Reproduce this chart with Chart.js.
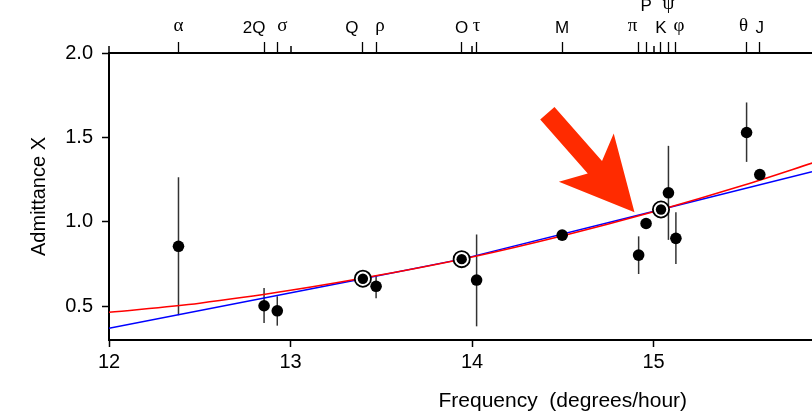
<!DOCTYPE html>
<html>
<head>
<meta charset="utf-8">
<style>
  html, body { margin: 0; padding: 0; background: #fff; overflow: hidden; }
  canvas { display: block; }
</style>
<script src="https://cdn.jsdelivr.net/npm/chart.js@4/dist/chart.umd.min.js"></script>
</head>
<body>
<canvas id="chart" width="812" height="417"></canvas>
<script>
// Diurnal tidal constituents and their estimated admittance
const constituents = ['α', '2Q', 'σ', 'Q', 'ρ', 'O', 'τ', 'M', 'π', 'P', 'K', 'ψ', 'φ', 'θ', 'J'];
const frequencies  = [12.3828, 12.8543, 12.9271, 13.3987, 13.4715, 13.9430, 14.0252, 14.4967,
                      14.9179, 14.9589, 15.0411, 15.0821, 15.1232, 15.5126, 15.5854];
const admittance   = [0.855, 0.503, 0.473, 0.663, 0.618, 0.779, 0.655, 0.921,
                      0.803, 0.990, 1.073, 1.172, 0.902, 1.529, 1.280];
const errLow       = [0.447, 0.401, 0.385, null, 0.547, null, 0.381, null,
                      0.691, null, null, 0.893, 0.750, 1.355, null];
const errHigh      = [1.264, 0.608, 0.559, null, 0.685, null, 0.925, null,
                      0.914, null, null, 1.450, 1.056, 1.707, null];
// Constituents used as references for the admittance curves
const referenceSet = ['Q', 'O', 'K'];

// Smooth admittance curve (red)
const smoothFreq = [12, 12.5, 13, 13.5, 14, 14.5, 15, 15.5, 15.9];
const smoothAdm  = [0.464, 0.518, 0.594, 0.686, 0.792, 0.918, 1.060, 1.218, 1.357];
// Piecewise-linear admittance through the references (blue)
const linearFreq = [12, 13.3987, 13.9430, 15.0411, 15.873];
const linearAdm  = [0.370, 0.663, 0.779, 1.073, 1.297];

const xTicks = [12, 13, 14, 15];
const yTicks = [0.5, 1.0, 1.5, 2.0];

// Placement tweaks for the constituent names along the top axis
const labelNudge = {
  '2Q': { dx: -10 }, 'σ': { dx: 5 }, 'Q': { dx: -11 }, 'ρ': { dx: 4 },
  'π': { dx: -6 }, 'P': { row: 1 }, 'ψ': { row: 1 }, 'φ': { dx: 3 }, 'θ': { dx: -3 }
};
// Highlight arrow, anchored at its tip in data units
const arrowTip = { freq: 14.895, value: 1.056 };

const SANS = 'Liberation Sans, Arial, Helvetica, sans-serif';
const SERIF = 'Liberation Serif, Times New Roman, serif';
const isGreek = s => /[\u0370-\u03ff]/.test(s);
const isRef = i => referenceSet.includes(constituents[i]);

// keep the plot flush with the canvas edges
const noEdgePadding = s => { s.paddingLeft = 0; s.paddingRight = 0; s.paddingTop = 0; s.paddingBottom = 0; };

const errorBars = {
  id: 'errorBars',
  beforeDatasetsDraw(chart) {
    const { ctx, chartArea, scales: { x, y } } = chart;
    ctx.save();
    ctx.beginPath();
    ctx.rect(chartArea.left, chartArea.top, chartArea.right - chartArea.left, chartArea.bottom - chartArea.top);
    ctx.clip();
    ctx.strokeStyle = '#333';
    ctx.lineWidth = 1.5;
    frequencies.forEach((f, i) => {
      if (errLow[i] == null) return;
      const px = x.getPixelForValue(f);
      ctx.beginPath();
      ctx.moveTo(px, y.getPixelForValue(errLow[i]));
      ctx.lineTo(px, y.getPixelForValue(errHigh[i]));
      ctx.stroke();
    });
    ctx.restore();
  }
};

const annotations = {
  id: 'annotations',
  afterDatasetsDraw(chart) {
    const { ctx, scales: { x, y } } = chart;
    const tx = x.getPixelForValue(arrowTip.freq);
    const ty = y.getPixelForValue(arrowTip.value);
    const u = [0.66, 0.751];
    const len = Math.hypot(u[0], u[1]);
    const ux = u[0] / len, uy = u[1] / len;
    const nx = uy, ny = -ux;
    const shape = [[0, 0], [-73, 36.5], [-60, 9.5], [-132, 9.5], [-132, -9.5], [-60, -9.5], [-73, -36.5]];
    ctx.save();
    ctx.fillStyle = '#ff2b00';
    ctx.beginPath();
    shape.forEach(([a, b], k) => {
      const px = tx + a * ux + b * nx;
      const py = ty + a * uy + b * ny;
      if (k === 0) ctx.moveTo(px, py); else ctx.lineTo(px, py);
    });
    ctx.closePath();
    ctx.fill();
    ctx.restore();
  },
  afterDraw(chart) {
    const { ctx, chartArea, scales: { x } } = chart;
    ctx.save();
    // short whole-degree ticks on the top axis
    ctx.strokeStyle = '#000';
    ctx.lineWidth = 1.5;
    xTicks.forEach(v => {
      const px = Math.round(x.getPixelForValue(v));
      ctx.beginPath();
      ctx.moveTo(px, chartArea.top);
      ctx.lineTo(px, chartArea.top - 7);
      ctx.stroke();
    });
    // constituent names
    ctx.fillStyle = '#000';
    ctx.textAlign = 'center';
    ctx.textBaseline = 'alphabetic';
    constituents.forEach((name, i) => {
      const nudge = labelNudge[name] || {};
      const px = x.getPixelForValue(frequencies[i]) + (nudge.dx || 0);
      const greek = isGreek(name);
      const base = greek ? 31 : 33;
      const py = base - (nudge.row ? 22 : 0);
      ctx.font = greek ? `19px ${SERIF}` : `17px ${SANS}`;
      ctx.fillText(name, px, py);
    });
    // horizontal axis title, centred on the full frequency band
    ctx.font = `21px ${SANS}`;
    ctx.textBaseline = 'middle';
    ctx.fillText('Frequency  (degrees/hour)', x.getPixelForValue(14.5), 401.5);
    ctx.restore();
  }
};

new Chart(document.getElementById('chart'), {
  type: 'scatter',
  data: {
    datasets: [
      {
        label: 'Admittance',
        data: frequencies.map((f, i) => ({ x: f, y: admittance[i] })),
        pointRadius: c => isRef(c.dataIndex) ? 5.2 : 5.8,
        pointBackgroundColor: '#000',
        pointBorderWidth: 0,
        order: 0
      },
      {
        label: 'Reference',
        data: frequencies.map((f, i) => ({ x: f, y: admittance[i] })).filter((p, i) => isRef(i)),
        pointRadius: 8.1,
        pointBackgroundColor: '#fff',
        pointBorderColor: '#000',
        pointBorderWidth: 1.8,
        order: 1
      },
      {
        type: 'line',
        label: 'Smooth',
        data: smoothFreq.map((f, i) => ({ x: f, y: smoothAdm[i] })),
        borderColor: '#ff0000',
        borderWidth: 1.5,
        pointRadius: 0,
        cubicInterpolationMode: 'monotone',
        fill: false,
        order: 2
      },
      {
        type: 'line',
        label: 'Linear',
        data: linearFreq.map((f, i) => ({ x: f, y: linearAdm[i] })),
        borderColor: '#0000ff',
        borderWidth: 1.5,
        pointRadius: 0,
        tension: 0,
        fill: false,
        order: 3
      }
    ]
  },
  options: {
    responsive: false,
    animation: false,
    events: [],
    layout: { padding: 0, autoPadding: false },
    plugins: { legend: { display: false }, tooltip: { enabled: false } },
    scales: {
      x: {
        type: 'linear', position: 'bottom', min: 12, max: 15.873,
        afterBuildTicks: s => { s.ticks = xTicks.map(v => ({ value: v })); },
        afterFit: s => { s.height = 77; noEdgePadding(s); },
        grid: { drawOnChartArea: false, drawTicks: true, tickLength: 7, tickWidth: 1.5, tickColor: '#000' },
        border: { display: true, color: '#000', width: 2 },
        ticks: { color: '#000', font: { family: SANS, size: 20 }, padding: 3, maxRotation: 0, autoSkip: false,
                 callback: v => String(v) }
      },
      x2: {
        type: 'linear', position: 'top', min: 12, max: 15.873,
        afterBuildTicks: s => { s.ticks = frequencies.map(v => ({ value: v })); },
        afterFit: s => { s.height = 53; noEdgePadding(s); },
        grid: { drawOnChartArea: false, drawTicks: true, tickLength: 11, tickWidth: 1.3, tickColor: '#000' },
        border: { display: true, color: '#000', width: 2 },
        ticks: { display: false }
      },
      y: {
        type: 'linear', position: 'left', min: 0.3, max: 2.0,
        afterBuildTicks: s => { s.ticks = yTicks.map(v => ({ value: v })); },
        afterFit: s => { s.width = 109; noEdgePadding(s); },
        grid: { drawOnChartArea: false, drawTicks: true, tickLength: 7, tickWidth: 1.5, tickColor: '#000' },
        border: { display: true, color: '#000', width: 2 },
        ticks: { color: '#000', font: { family: SANS, size: 20 }, padding: 9, callback: v => v.toFixed(1) },
        title: { display: true, text: 'Admittance X', color: '#000', font: { family: SANS, size: 20 },
                 padding: { top: 27, bottom: 0 } }
      }
    }
  },
  plugins: [errorBars, annotations]
});
</script>
</body>
</html>
